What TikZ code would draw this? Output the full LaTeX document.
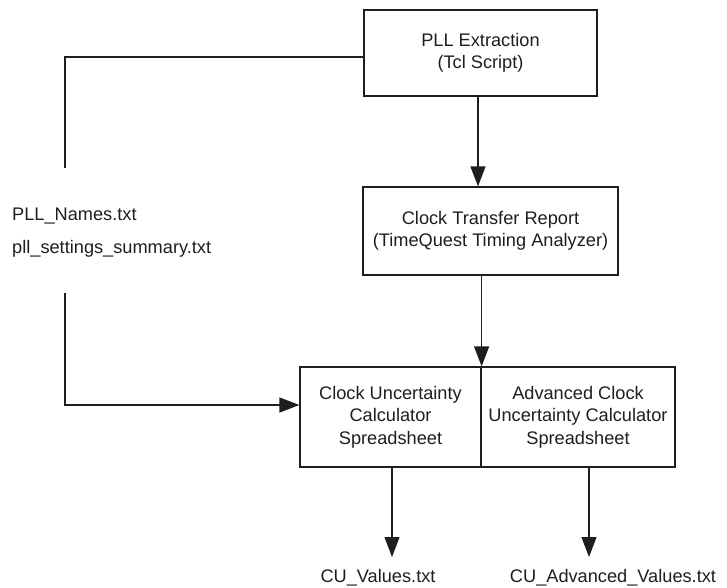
\documentclass[tikz,border=0pt]{standalone}
\usepackage{fontspec}
\setmainfont{Liberation Sans}
\usetikzlibrary{arrows.meta,calc}
\definecolor{ink}{HTML}{1E1E1E}
\begin{document}
\begin{tikzpicture}[x=1pt,y=-1pt,
  every node/.style={text=ink,font=\fontsize{18.2}{22.5}\selectfont},
  box/.style={draw=ink,line width=1.2pt,inner sep=0pt,align=center},
  wire/.style={draw=ink,line width=1.2pt},
  arr/.style={wire,-{Triangle[length=20pt,width=15pt]}},
  filename/.style={inner sep=0pt}]
  \useasboundingbox (0,0) rectangle (727,587);

  % process boxes
  \node[box,minimum width=233pt,minimum height=86pt] (extract) at (480.5,53)
    {PLL Extraction\\(Tcl Script)};
  \node[box,minimum width=255pt,minimum height=88pt] (report) at (490.5,231)
    {Clock Transfer Report\\(TimeQuest Timing Analyzer)};
  \node[box,minimum width=181pt,minimum height=100pt] (calc) at (390.5,417)
    {Clock Uncertainty\\Calculator\\Spreadsheet};
  \node[box,minimum width=194pt,minimum height=100pt] (advcalc) at (578,417)
    {Advanced Clock\\Uncertainty Calculator\\Spreadsheet};

  % file names
  \node[filename,anchor=base west] (names) at (12,220) {PLL\_Names.txt};
  \node[filename,anchor=base west] (summary) at (12,253) {pll\_settings\_summary.txt};
  \node[filename,anchor=base] (cuval) at (378,582) {CU\_Values.txt};
  \node[filename,anchor=base] (cuadv) at (613,582) {CU\_Advanced\_Values.txt};

  % free line ends around the file names
  \coordinate (outEnd) at (65,168);
  \coordinate (inStart) at (65,293);
  \coordinate (cuvalTip) at (392,557);
  \coordinate (cuadvTip) at (589,557);

  % connectors
  \draw[wire] (extract.west |- 0,57) -| (outEnd);
  \draw[arr] (inStart) |- (calc.west |- 0,405);
  \draw[arr] ($(extract.south)+(-2.5,0)$) -- ($(report.north)+(-12.5,0)$);
  \draw[arr] (report.south -| calc.east) -- (calc.north east);
  \draw[arr] (calc.south -| cuvalTip) -- (cuvalTip);
  \draw[arr] (advcalc.south -| cuadvTip) -- (cuadvTip);
\end{tikzpicture}
\end{document}
